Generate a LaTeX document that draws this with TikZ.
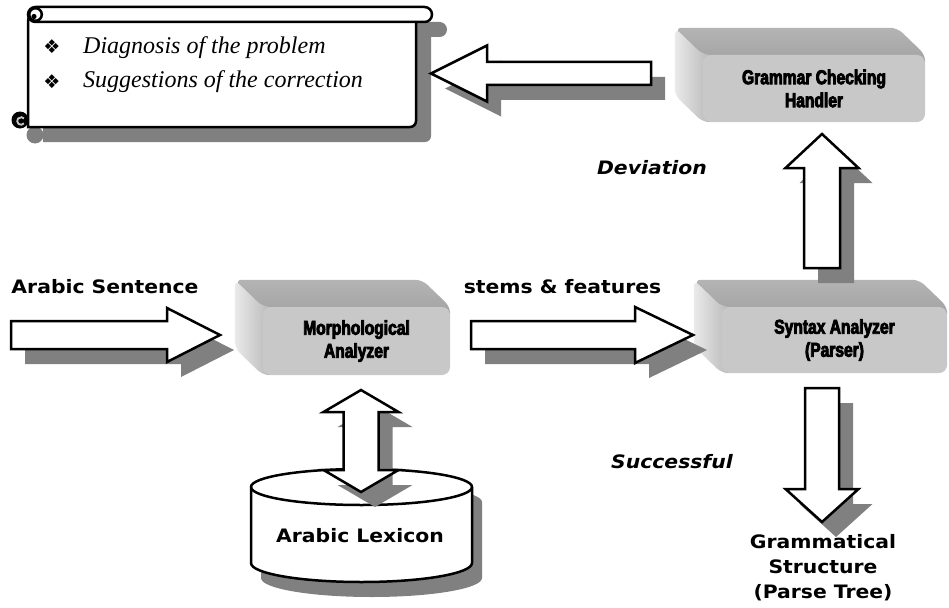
\documentclass[tikz,border=0pt]{standalone}
\usepackage{fontspec}
\usetikzlibrary{calc}
\setmainfont{DejaVu Sans}
\newfontfamily\lblfont[FakeStretch=1.1]{DejaVu Sans}
\newfontfamily\boxfont[FakeStretch=0.78,FakeBold=4]{Liberation Sans}
\newfontfamily\scrfont{Liberation Serif}
\newfontfamily\symfont{DejaVu Sans}
\definecolor{shadowc}{HTML}{808080}
\definecolor{frontc}{HTML}{C8C8C8}
\definecolor{topc1}{HTML}{B4B4B4}
\definecolor{topc2}{HTML}{A0A0A0}
\definecolor{leftc1}{HTML}{EAEAEA}
\definecolor{leftc2}{HTML}{B2B2B2}
\pgfdeclarelayer{bgw}
\pgfdeclarelayer{bg}
\pgfsetlayers{bgw,bg,main}

% single block arrow: A, B, half shaft, half head, head length
\newcommand\singlearrowpath[5]{($(#1)!#3!90:(#2)$) -- ($(#2)!#5!(#1)!#3!-90:(#1)$) -- ($(#2)!#5!(#1)!#4!-90:(#1)$) -- (#2) -- ($(#2)!#5!(#1)!#4!90:(#1)$) -- ($(#2)!#5!(#1)!#3!90:(#1)$) -- ($(#1)!#3!-90:(#2)$) -- cycle}
\newcommand\doublearrowpath[5]{(#1) -- ($(#1)!#5!(#2)!#4!90:(#2)$) -- ($(#1)!#5!(#2)!#3!90:(#2)$) -- ($(#2)!#5!(#1)!#3!-90:(#1)$) -- ($(#2)!#5!(#1)!#4!-90:(#1)$) -- (#2) -- ($(#2)!#5!(#1)!#4!90:(#1)$) -- ($(#2)!#5!(#1)!#3!90:(#1)$) -- ($(#1)!#5!(#2)!#3!-90:(#2)$) -- ($(#1)!#5!(#2)!#4!-90:(#2)$) -- cycle}
\newcommand\sarrow[5]{%
  \fill[arrshadow] \singlearrowpath{#1}{#2}{#3}{#4}{#5};
  \draw[arrbody] \singlearrowpath{#1}{#2}{#3}{#4}{#5};}
\newcommand\darrow[5]{%
  \fill[arrshadow] \doublearrowpath{#1}{#2}{#3}{#4}{#5};
  \draw[arrbody] \doublearrowpath{#1}{#2}{#3}{#4}{#5};}
\newcommand\boxfaces[1]{%
  \begin{pgfonlayer}{bg}
  \shade[top color=topc1, bottom color=topc2, rounded corners=7pt]
    ($(#1.north west)+(-28,-27)$) -- ($(#1.north east)+(-28,-27)$) -- (#1.north east)
    -- ($(#1.north east)+(0,12)$) -- ($(#1.north west)+(0,12)$) -- cycle;
  \shade[left color=leftc1, right color=leftc2, rounded corners=7pt]
    ($(#1.north west)+(-28,-27)$) -- (#1.north west) -- ($(#1.north west)+(12,0)$)
    -- ($(#1.south west)+(12,0)$) -- (#1.south west) -- ($(#1.south west)+(-28,-27)$) -- cycle;
  \end{pgfonlayer}}

\begin{document}
\begin{tikzpicture}[x=1pt,y=-1pt,
  lbl/.style={inner sep=0pt, font=\lblfont\fontsize{18.5}{25}\selectfont\bfseries},
  ilbl/.style={inner sep=0pt, font=\lblfont\fontsize{18.5}{25}\selectfont\bfseries\itshape},
  frontbox/.style={rounded corners=8pt, fill=frontc, inner sep=0pt, align=center,
    font=\boxfont\fontsize{20}{23}\selectfont\bfseries},
  arrbody/.style={draw=black, line width=2.5pt, fill=white, line join=miter},
  arrshadow/.style={fill=shadowc, transform canvas={shift={(14,15)}}},
  scrl/.style={draw=black, line width=2.5pt, fill=white},
  bul/.style={inner sep=0pt, font=\symfont\fontsize{19}{19}\selectfont},
  scrtxt/.style={inner sep=0pt, anchor=base west, font=\scrfont\itshape\fontsize{24}{28}\selectfont}
]
\begin{pgfonlayer}{bgw}
\fill[white] (0,0) rectangle (949,607);
\end{pgfonlayer}
\useasboundingbox (0,0) rectangle (949,607);

% ---------- scroll ----------
\begin{scope}[transform canvas={shift={(15,15)}}]
  \fill[shadowc] (28,15) -- (28,127) [rounded corners=6pt] -- (416,127) -- (416,15) -- cycle;
  \fill[shadowc, rounded corners=7.5pt] (28,7) rectangle (432,22);
  \fill[shadowc] (20,120) circle (8.5);
\end{scope}
\draw[scrl] (28,15) -- (28,127) [rounded corners=6pt] -- (416,127) -- (416,15) -- cycle;
\draw[scrl, rounded corners=7.5pt] (28,7) rectangle (432,22);
\draw[line width=2.5pt, fill=white] (35.5,14.5) circle (6.3);
\fill (34,16.5) circle (2.6);
\fill (20,120) circle (8.5);
\draw[line width=1.8pt, black!22] (23.9,123.4) arc[start angle=40, end angle=320, radius=3.8];

\node[bul] (b1) at (52,47) {❖};
\node[bul] (b2) at (52,82) {❖};
\node[scrtxt] (t1) at (83,54) {Diagnosis of the problem};
\node[scrtxt] (t2) at (83,88) {Suggestions of the correction};

% ---------- 3D boxes ----------
\node[frontbox, minimum width=222pt, minimum height=67pt] (gch) at (814,88.5) {Grammar Checking\\Handler};
\boxfaces{gch}
\node[frontbox, minimum width=187pt, minimum height=68pt] (morph) at (356.5,341) {Morphological\\Analyzer};
\boxfaces{morph}
\node[frontbox, minimum width=225pt, minimum height=66pt] (syn) at (834.5,340) {Syntax Analyzer\\(Parser)};
\boxfaces{syn}

% ---------- lexicon cylinder ----------
\begin{scope}[transform canvas={shift={(10,15)}}]
  \fill[shadowc] (251,487) -- (251,563) arc[start angle=180, end angle=0, x radius=110.5, y radius=19]
    -- (472,487) arc[start angle=0, end angle=-180, x radius=110.5, y radius=18] -- cycle;
\end{scope}
\draw[scrl] (251,487) -- (251,563) arc[start angle=180, end angle=0, x radius=110.5, y radius=19]
    -- (472,487) arc[start angle=0, end angle=-180, x radius=110.5, y radius=18] -- cycle;
\draw[line width=2.5pt] (251,487) arc[start angle=180, end angle=0, x radius=110.5, y radius=18];
\node[lbl] (lex) at (360,536) {Arabic Lexicon};

% ---------- arrow end points ----------
\coordinate (asA) at (11,335);   \coordinate (asB) at (220,335);
\coordinate (sfA) at (471,335);  \coordinate (sfB) at (693,335);
\coordinate (dgA) at (651,73.5); \coordinate (dgB) at (431,73.5);
\coordinate (upA) at (822,268);  \coordinate (upB) at (822,134);
\coordinate (dnA) at (822,388);  \coordinate (dnB) at (822,522);
\coordinate (lxA) at (361,390);  \coordinate (lxB) at (361,492);

\sarrow{asA}{asB}{14pt}{27pt}{53pt}
\sarrow{sfA}{sfB}{14pt}{28pt}{58pt}
\sarrow{dgA}{dgB}{11.5pt}{28pt}{56pt}
\sarrow{upA}{upB}{18pt}{36.5pt}{34pt}
\sarrow{dnA}{dnB}{17pt}{36.5pt}{33pt}
\darrow{lxA}{lxB}{17.5pt}{37.5pt}{22pt}

% ---------- labels ----------
\node[lbl] (as) at (105,287) {Arabic Sentence};
\node[lbl] (sf) at (562.5,287) {stems \& features};
\node[ilbl] (dev) at (652,168) {Deviation};
\node[ilbl] (suc) at (672,462) {Successful};
\node[lbl, align=center] (gs) at (823,568) {Grammatical\\Structure\\(Parse Tree)};
\end{tikzpicture}
\end{document}
